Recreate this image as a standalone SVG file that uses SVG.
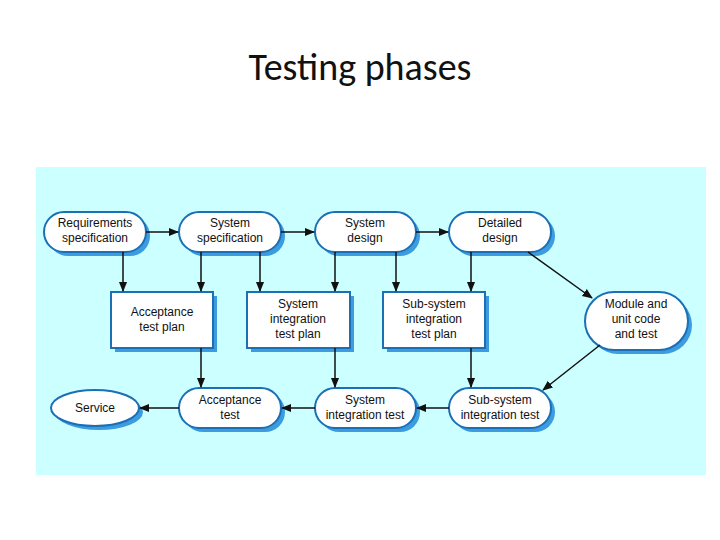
<svg xmlns="http://www.w3.org/2000/svg" width="720" height="540" viewBox="0 0 720 540">
<defs>
<style>
.n{fill:#fff;stroke:#1a6fb5;stroke-width:2}
.sh{fill:#3d9be0}
.t{font-family:"Liberation Sans",Arial,sans-serif;font-size:12px;fill:#111;text-anchor:middle}
.c{stroke:#111;stroke-width:1.5;fill:none;marker-end:url(#a)}
</style>
<marker id="a" viewBox="0 0 10 10" refX="9" refY="5" markerWidth="7" markerHeight="7" orient="auto"><path d="M0,1 L10,5 L0,9 z" fill="#111"/></marker>
</defs>
<rect width="720" height="540" fill="#fff"/>
<text x="360" y="80" font-family="Calibri,Carlito,'Liberation Sans',sans-serif" font-size="38" text-anchor="middle" fill="#111">Testing phases</text>
<rect x="36" y="167" width="670" height="308" fill="#ccffff"/>
<g id="req"><rect x="48" y="216" width="102" height="40" rx="20" class="sh"/><rect x="44" y="212" width="102" height="40" rx="20" class="n"/><text class="t" x="95" y="227">Requirements</text><text class="t" x="95" y="242">specification</text></g>
<g id="sysspec"><rect x="183" y="216" width="102" height="40" rx="20" class="sh"/><rect x="179" y="212" width="102" height="40" rx="20" class="n"/><text class="t" x="230" y="227">System</text><text class="t" x="230" y="242">specification</text></g>
<g id="sysdesign"><rect x="319" y="216" width="101" height="40" rx="20" class="sh"/><rect x="315" y="212" width="101" height="40" rx="20" class="n"/><text class="t" x="365" y="227">System</text><text class="t" x="365" y="242">design</text></g>
<g id="detailed"><rect x="453" y="216" width="102" height="40" rx="20" class="sh"/><rect x="449" y="212" width="102" height="40" rx="20" class="n"/><text class="t" x="500" y="227">Detailed</text><text class="t" x="500" y="242">design</text></g>
<g id="module"><rect x="589" y="296" width="103" height="58" rx="29" class="sh"/><rect x="585" y="292" width="103" height="58" rx="29" class="n"/><text class="t" x="636" y="308">Module and</text><text class="t" x="636" y="323">unit code</text><text class="t" x="636" y="338">and test</text></g>
<g id="accplan"><rect x="115" y="296" width="102" height="56" class="sh"/><rect x="111" y="292" width="102" height="56" class="n"/><text class="t" x="162" y="316">Acceptance</text><text class="t" x="162" y="331">test plan</text></g>
<g id="sysintplan"><rect x="251" y="296" width="103" height="56" class="sh"/><rect x="247" y="292" width="103" height="56" class="n"/><text class="t" x="298" y="308">System</text><text class="t" x="298" y="323">integration</text><text class="t" x="298" y="338">test plan</text></g>
<g id="subplan"><rect x="387" y="296" width="102" height="56" class="sh"/><rect x="383" y="292" width="102" height="56" class="n"/><text class="t" x="434" y="308">Sub-system</text><text class="t" x="434" y="323">integration</text><text class="t" x="434" y="338">test plan</text></g>
<g id="service"><ellipse cx="99" cy="412" rx="44" ry="18" class="sh"/><ellipse cx="95" cy="408" rx="44" ry="18" class="n"/><text class="t" x="95" y="412">Service</text></g>
<g id="acctest"><rect x="183" y="392" width="102" height="40" rx="20" class="sh"/><rect x="179" y="388" width="102" height="40" rx="20" class="n"/><text class="t" x="230" y="404">Acceptance</text><text class="t" x="230" y="419">test</text></g>
<g id="sysinttest"><rect x="319" y="392" width="101" height="40" rx="20" class="sh"/><rect x="315" y="388" width="101" height="40" rx="20" class="n"/><text class="t" x="365" y="404">System</text><text class="t" x="365" y="419">integration test</text></g>
<g id="subtest"><rect x="453" y="392" width="102" height="40" rx="20" class="sh"/><rect x="449" y="388" width="102" height="40" rx="20" class="n"/><text class="t" x="500" y="404">Sub-system</text><text class="t" x="500" y="419">integration test</text></g>
<g id="connectors">
<line class="c" x1="146" y1="232" x2="178" y2="232"/>
<line class="c" x1="281" y1="232" x2="314" y2="232"/>
<line class="c" x1="416" y1="232" x2="448" y2="232"/>
<line class="c" x1="123" y1="252" x2="123" y2="291"/>
<line class="c" x1="201" y1="252" x2="201" y2="291"/>
<line class="c" x1="260" y1="252" x2="260" y2="291"/>
<line class="c" x1="335" y1="252" x2="335" y2="291"/>
<line class="c" x1="396" y1="252" x2="396" y2="291"/>
<line class="c" x1="471" y1="252" x2="471" y2="291"/>
<line class="c" x1="528" y1="252" x2="592" y2="298"/>
<line class="c" x1="600" y1="345" x2="543" y2="390"/>
<line class="c" x1="201" y1="348" x2="201" y2="387"/>
<line class="c" x1="335" y1="348" x2="335" y2="387"/>
<line class="c" x1="471" y1="348" x2="471" y2="387"/>
<line class="c" x1="449" y1="408" x2="417" y2="408"/>
<line class="c" x1="315" y1="408" x2="282" y2="408"/>
<line class="c" x1="179" y1="408" x2="140" y2="408"/>
</g>
</svg>
